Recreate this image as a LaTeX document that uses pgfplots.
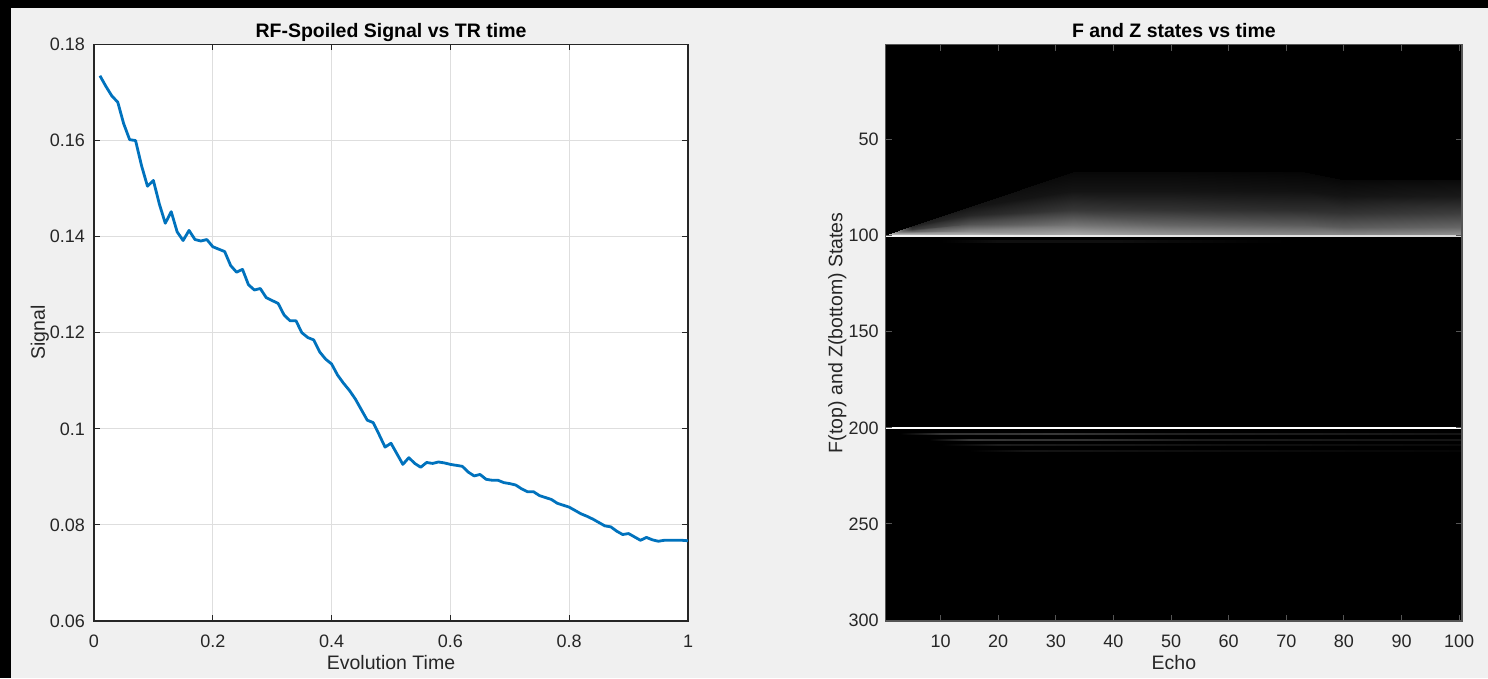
\documentclass[border=0pt]{standalone}
\usepackage{fontspec}
\setmainfont{Liberation Sans}
\usepackage{pgfplots}
\pgfplotsset{compat=1.18}
\definecolor{figbg}{HTML}{F0F0F0}
\definecolor{axgray}{HTML}{262626}
\definecolor{gridgray}{HTML}{DEDEDE}
\definecolor{mblue}{HTML}{0072BD}
\definecolor{imgedge}{HTML}{555555}
\newcommand{\tickfont}{\fontsize{18}{21}\selectfont}
\newcommand{\labfont}{\fontsize{19.5}{23}\selectfont}

\pgfplotstableread{
x y
0.01 0.1735
0.02 0.1713
0.03 0.1693
0.04 0.1680
0.05 0.1635
0.06 0.1602
0.07 0.1600
0.08 0.1548
0.09 0.1505
0.10 0.1517
0.11 0.1468
0.12 0.1428
0.13 0.1452
0.14 0.1410
0.15 0.1392
0.16 0.1413
0.17 0.1394
0.18 0.1391
0.19 0.1394
0.20 0.1379
0.21 0.1374
0.22 0.1369
0.23 0.1340
0.24 0.1326
0.25 0.1332
0.26 0.1300
0.27 0.1289
0.28 0.1292
0.29 0.1273
0.30 0.1267
0.31 0.1261
0.32 0.1237
0.33 0.1225
0.34 0.1225
0.35 0.1200
0.36 0.1190
0.37 0.1185
0.38 0.1160
0.39 0.1145
0.40 0.1135
0.41 0.1112
0.42 0.1095
0.43 0.1080
0.44 0.1062
0.45 0.1040
0.46 0.1018
0.47 0.1013
0.48 0.0988
0.49 0.0962
0.50 0.0970
0.51 0.0948
0.52 0.0926
0.53 0.0940
0.54 0.0928
0.55 0.0920
0.56 0.0930
0.57 0.0928
0.58 0.0931
0.59 0.0929
0.60 0.0926
0.61 0.0924
0.62 0.0922
0.63 0.0910
0.64 0.0902
0.65 0.0905
0.66 0.0895
0.67 0.0893
0.68 0.0893
0.69 0.0888
0.70 0.0886
0.71 0.0883
0.72 0.0875
0.73 0.0869
0.74 0.0869
0.75 0.0861
0.76 0.0857
0.77 0.0853
0.78 0.0845
0.79 0.0841
0.80 0.0837
0.81 0.0830
0.82 0.0823
0.83 0.0818
0.84 0.0812
0.85 0.0805
0.86 0.0798
0.87 0.0796
0.88 0.0787
0.89 0.0780
0.90 0.0782
0.91 0.0775
0.92 0.0768
0.93 0.0774
0.94 0.0769
0.95 0.0766
0.96 0.0768
0.97 0.0768
0.98 0.0768
0.99 0.0768
1.00 0.0767
}\signaldata

\pgfplotstableread{
x y c
0.5 99.5 0.8
5 99.5 0.78
15 99.5 0.74
33 99.5 0.68
50 99.5 0.6
73 99.5 0.55
80 99.5 0.55
100.5 99.5 0.58
0.5 99.5 0.8
5 98.825 0.6
15 97.325 0.54
33 94.625 0.46
50 94.625 0.4
73 94.625 0.36
80 95.225 0.36
100.5 95.225 0.4
0.5 99.5 0.8
5 97.7 0.38
15 93.7 0.32
33 86.5 0.22
50 86.5 0.2
73 86.5 0.18
80 88.1 0.2
100.5 88.1 0.24
0.5 99.5 0.8
5 96.35 0.22
15 89.35 0.15
33 76.75 0.08
50 76.75 0.08
73 76.75 0.07
80 79.55 0.08
100.5 79.55 0.1
0.5 99.5 0.8
5 95 0.14
15 85 0.08
33 67 0.03
50 67 0.03
73 67 0.02
80 71 0.03
100.5 71 0.04
}\fregion

\pgfplotstableread{
x y c
0.5 99.5 0.95
30 99.5 0.92
100.5 99.5 0.85
0.5 100.5 0.95
30 100.5 0.92
100.5 100.5 0.85
}\frow

\pgfplotstableread{
x y c
3 202.5 0
10 202.5 0.2
30 202.5 0.22
50 202.5 0.13
100.5 202.5 0.08
3 203.3 0
10 203.3 0.2
30 203.3 0.22
50 203.3 0.13
100.5 203.3 0.08
}\zstripA

\pgfplotstableread{
x y c
8 206 0
15 206 0.22
35 206 0.2
55 206 0.11
100.5 206 0.08
8 206.8 0
15 206.8 0.22
35 206.8 0.2
55 206.8 0.11
100.5 206.8 0.08
}\zstripB

\pgfplotstableread{
x y c
10 208.6 0
20 208.6 0.11
40 208.6 0.09
60 208.6 0.06
100.5 208.6 0.04
10 209.4 0
20 209.4 0.11
40 209.4 0.09
60 209.4 0.06
100.5 209.4 0.04
}\zstripC

\pgfplotstableread{
x y c
15 211.6 0
25 211.6 0.08
45 211.6 0.06
70 211.6 0.04
100.5 211.6 0.02
15 212.4 0
25 212.4 0.08
45 212.4 0.06
70 212.4 0.04
100.5 212.4 0.02
}\zstripD

\pgfplotstableread{
x y c
10 102 0
20 102 0.06
40 102 0.06
55 102 0.03
70 102 0
10 103.5 0
20 103.5 0.06
40 103.5 0.06
55 103.5 0.03
70 103.5 0
}\fshadow

\begin{document}
\begin{tikzpicture}[x=1pt,y=1pt]
\useasboundingbox (0,0) rectangle (1488,678);
\fill[black] (0,0) rectangle (1488,678);
\fill[figbg] (11,0) rectangle (1488,670);

\begin{axis}[
  at={(94pt,57pt)}, anchor=south west, scale only axis,
  width=594pt, height=576.5pt,
  xmin=0, xmax=1, ymin=0.06, ymax=0.18,
  xtick={0,0.2,0.4,0.6,0.8,1},
  xticklabels={0,0.2,0.4,0.6,0.8,1},
  ytick={0.06,0.08,0.1,0.12,0.14,0.16,0.18},
  yticklabels={0.06,0.08,0.1,0.12,0.14,0.16,0.18},
  axis background/.style={fill=white},
  axis line style={axgray, line width=1.2pt},
  tick style={axgray, line width=1pt},
  major tick length=6pt,
  tick align=inside,
  grid=major,
  major grid style={gridgray, line width=1pt},
  tick label style={font=\tickfont, text=axgray, inner sep=0pt},
  xticklabel style={anchor=base, yshift=-26pt},
  yticklabel style={anchor=east, xshift=-9pt},
  title={RF-Spoiled Signal vs TR time},
  title style={font=\labfont\bfseries, text=black, at={(axis description cs:0.5,1.0026)}, anchor=base, inner sep=0pt},
  xlabel={Evolution Time},
  xlabel style={font=\labfont, text=axgray, at={(axis description cs:0.5,-0.0833)}, anchor=base, inner sep=0pt},
  ylabel={Signal},
  ylabel style={font=\labfont, text=axgray, at={(axis description cs:-0.0825,0.5)}, rotate=0, anchor=base, inner sep=0pt},
]
\addplot[mblue, line width=2.8pt, line join=round] table[x=x, y=y] {\signaldata};
\end{axis}

\begin{axis}[
  at={(885.8pt,57pt)}, anchor=south west, scale only axis,
  width=576.2pt, height=576.5pt,
  xmin=0.5, xmax=100.5, ymin=0.5, ymax=300.5,
  y dir=reverse,
  axis on top,
  xtick={10,20,30,40,50,60,70,80,90,100},
  xticklabels={10,20,30,40,50,60,70,80,90,100},
  ytick={50,100,150,200,250,300},
  yticklabels={50,100,150,200,250,300},
  axis background/.style={fill=black},
  axis line style={imgedge, line width=1.2pt},
  tick style={imgedge, line width=1pt},
  major tick length=6pt,
  tick align=inside,
  tick label style={font=\tickfont, text=axgray, inner sep=0pt},
  xticklabel style={anchor=base, yshift=-26pt},
  yticklabel style={anchor=east, xshift=-7pt},
  colormap={bw}{rgb255(0cm)=(0,0,0); rgb255(1cm)=(255,255,255)},
  point meta min=0, point meta max=1,
  title={F and Z states vs time},
  title style={font=\labfont\bfseries, text=black, at={(axis description cs:0.5,1.0026)}, anchor=base, inner sep=0pt},
  xlabel={Echo},
  xlabel style={font=\labfont, text=axgray, at={(axis description cs:0.5,-0.0833)}, anchor=base, inner sep=0pt},
  ylabel={F(top) and Z(bottom) States},
  ylabel style={font=\labfont, text=axgray, at={(axis description cs:-0.0755,0.5)}, rotate=0, anchor=base, inner sep=0pt},
]
\addplot[surf, shader=interp, mesh/cols=8, point meta=explicit] table[x=x, y=y, meta=c] {\fregion};
\addplot[surf, shader=interp, mesh/cols=3, point meta=explicit] table[x=x, y=y, meta=c] {\frow};
\addplot[surf, shader=interp, mesh/cols=5, point meta=explicit] table[x=x, y=y, meta=c] {\fshadow};
\addplot[surf, shader=interp, mesh/cols=5, point meta=explicit] table[x=x, y=y, meta=c] {\zstripA};
\addplot[surf, shader=interp, mesh/cols=5, point meta=explicit] table[x=x, y=y, meta=c] {\zstripB};
\addplot[surf, shader=interp, mesh/cols=5, point meta=explicit] table[x=x, y=y, meta=c] {\zstripC};
\addplot[surf, shader=interp, mesh/cols=5, point meta=explicit] table[x=x, y=y, meta=c] {\zstripD};
\addplot[fill=white, draw=none] coordinates {(0.5,199.5) (100.5,199.5) (100.5,200.8) (0.5,200.8)} -- cycle;
\end{axis}
\end{tikzpicture}
\end{document}
